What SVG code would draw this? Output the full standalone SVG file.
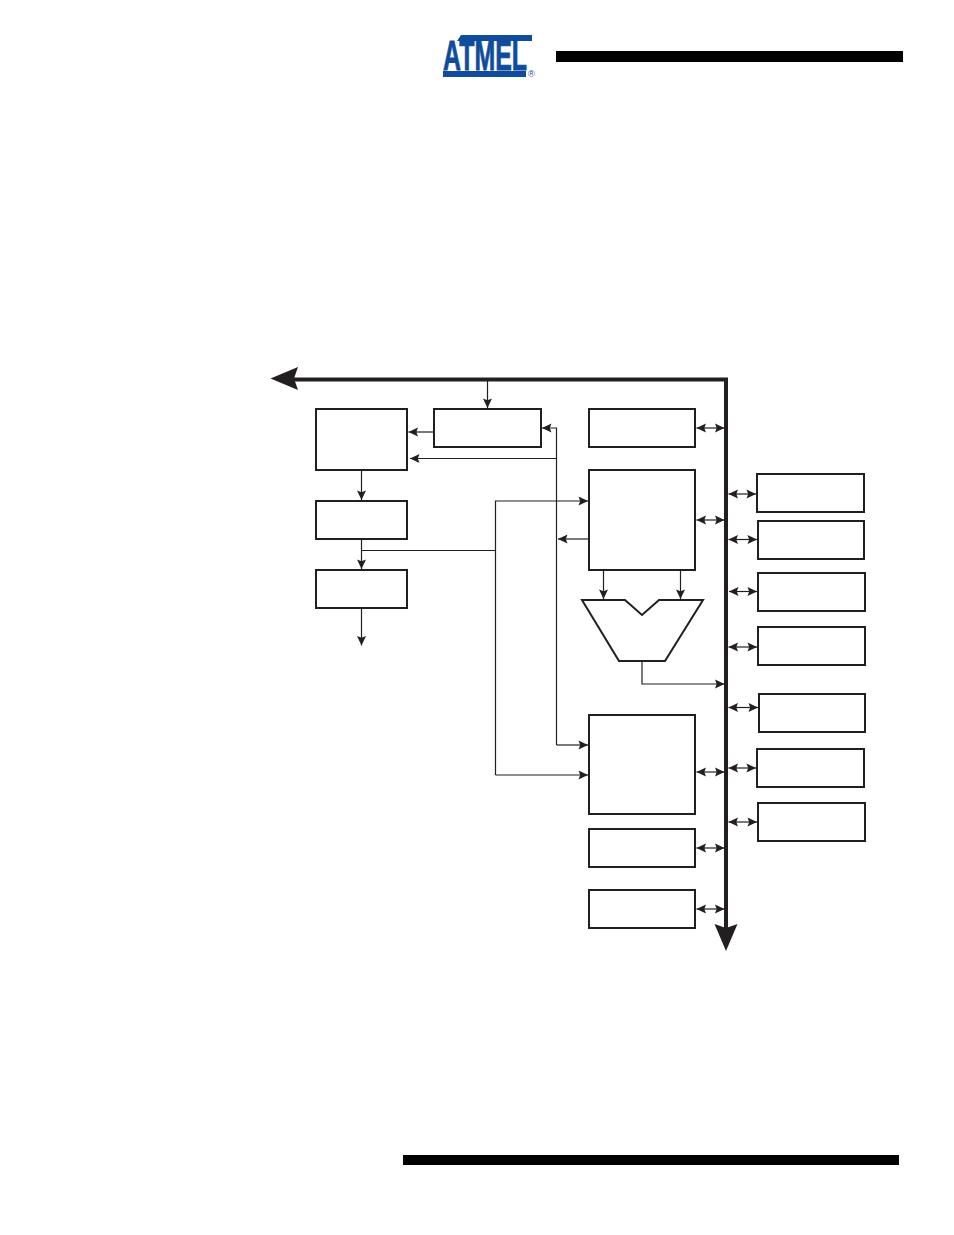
<svg xmlns="http://www.w3.org/2000/svg" width="954" height="1235" viewBox="0 0 954 1235">
<style>
.box{fill:#fff;stroke:#231f20;stroke-width:2}
.wire{fill:none;stroke:#231f20;stroke-width:1.2}
.a{marker-end:url(#ah)}
.d{marker-start:url(#ah);marker-end:url(#ah)}
.bar{fill:#000}
.logo{fill:#0f4c9e}
</style>
<defs>
<marker id="ah" markerUnits="userSpaceOnUse" markerWidth="11" markerHeight="11" viewBox="0 0 11 11" refX="10" refY="5.500" orient="auto-start-reverse">
<path d="M0.500 1L10 5.500L0.500 10L2.200 5.500Z" fill="#231f20"/>
</marker>
</defs>
<rect x="0" y="0" width="954" height="1235" fill="#fff"/>
<g id="header">
<rect class="bar" x="556" y="51" width="347" height="11"/>
</g>
<g id="logo">
<polygon class="logo" points="461,35 532,35 532,41 457,41"/>
<polygon class="logo" points="443,71 526,71 526,77 443,77"/>
<text transform="translate(443 70) scale(1 1.6)" x="0" y="0" font-family="Liberation Sans, sans-serif" font-weight="bold" font-size="26" textLength="84" lengthAdjust="spacingAndGlyphs" stroke="#0f4c9e" stroke-width="0.5" class="logo">ATMEL</text>
<text x="528" y="77" font-family="Liberation Sans, sans-serif" font-size="9" class="logo">®</text>
</g>
<g id="footer">
<rect class="bar" x="403" y="1155" width="496" height="10"/>
</g>
<g id="connectors">
<path class="wire a" d="M487.500 380V408"/>
<path class="wire a" d="M434 432H408.500"/>
<path class="wire a" d="M556.500 458.500H410"/>
<path class="wire a" d="M556.500 745V428H542"/>
<path class="wire a" d="M556.500 745H588"/>
<path class="wire a" d="M361.500 470V500"/>
<path class="wire a" d="M361.500 539V569"/>
<path class="wire" d="M361.500 550.500H495.500"/>
<path class="wire a" d="M495.500 775V501H588"/>
<path class="wire a" d="M495.500 775H588"/>
<path class="wire a" d="M361.500 608V645.500"/>
<path class="wire a" d="M588 539H558"/>
<path class="wire a" d="M603.500 570V599"/>
<path class="wire a" d="M680.500 570V599"/>
<path class="wire a" d="M642 661V684H724.500"/>
<path class="wire d" d="M696.500 428H724.500"/>
<path class="wire d" d="M696.500 520H724.500"/>
<path class="wire d" d="M696.500 772H724.500"/>
<path class="wire d" d="M696.500 848H724.500"/>
<path class="wire d" d="M696.500 909H724.500"/>
<path class="wire d" d="M728.500 494H756"/>
<path class="wire d" d="M728.500 539.500H757"/>
<path class="wire d" d="M729 591.500H757"/>
<path class="wire d" d="M728.500 647H757"/>
<path class="wire d" d="M728.500 707.500H758"/>
<path class="wire d" d="M728.500 768H756"/>
<path class="wire d" d="M728.500 822H757"/>
<path d="M292 379.500H726V930" fill="none" stroke="#231f20" stroke-width="4"/>
<polygon points="270.500,378.500 298,367 294,378.500 298,390" fill="#231f20"/>
<polygon points="726,951 714.500,924 726,928 737.500,924" fill="#231f20"/>
</g>
<g id="n1"><rect class="box" x="316" y="409" width="91" height="61"/></g>
<g id="n2"><rect class="box" x="316" y="501" width="91" height="38"/></g>
<g id="n3"><rect class="box" x="316" y="570" width="91" height="38"/></g>
<g id="n4"><rect class="box" x="434" y="409" width="107" height="38"/></g>
<g id="n5"><rect class="box" x="589" y="409" width="106" height="38"/></g>
<g id="n6"><rect class="box" x="589" y="470" width="106" height="100"/></g>
<g id="alu"><polygon class="box" points="582,600 625,600 642,615 659,600 703,600 665,661 619,661"/></g>
<g id="n7"><rect class="box" x="589" y="715" width="106" height="99"/></g>
<g id="n8"><rect class="box" x="589" y="829" width="106" height="38"/></g>
<g id="n9"><rect class="box" x="589" y="890" width="106" height="38"/></g>
<g id="p1"><rect class="box" x="757" y="474" width="107" height="38"/></g>
<g id="p2"><rect class="box" x="758" y="521" width="106" height="38"/></g>
<g id="p3"><rect class="box" x="758" y="573" width="107" height="38"/></g>
<g id="p4"><rect class="box" x="758" y="627" width="107" height="38"/></g>
<g id="p5"><rect class="box" x="759" y="694" width="106" height="38"/></g>
<g id="p6"><rect class="box" x="757" y="749" width="107" height="38"/></g>
<g id="p7"><rect class="box" x="758" y="803" width="107" height="38"/></g>
</svg>
